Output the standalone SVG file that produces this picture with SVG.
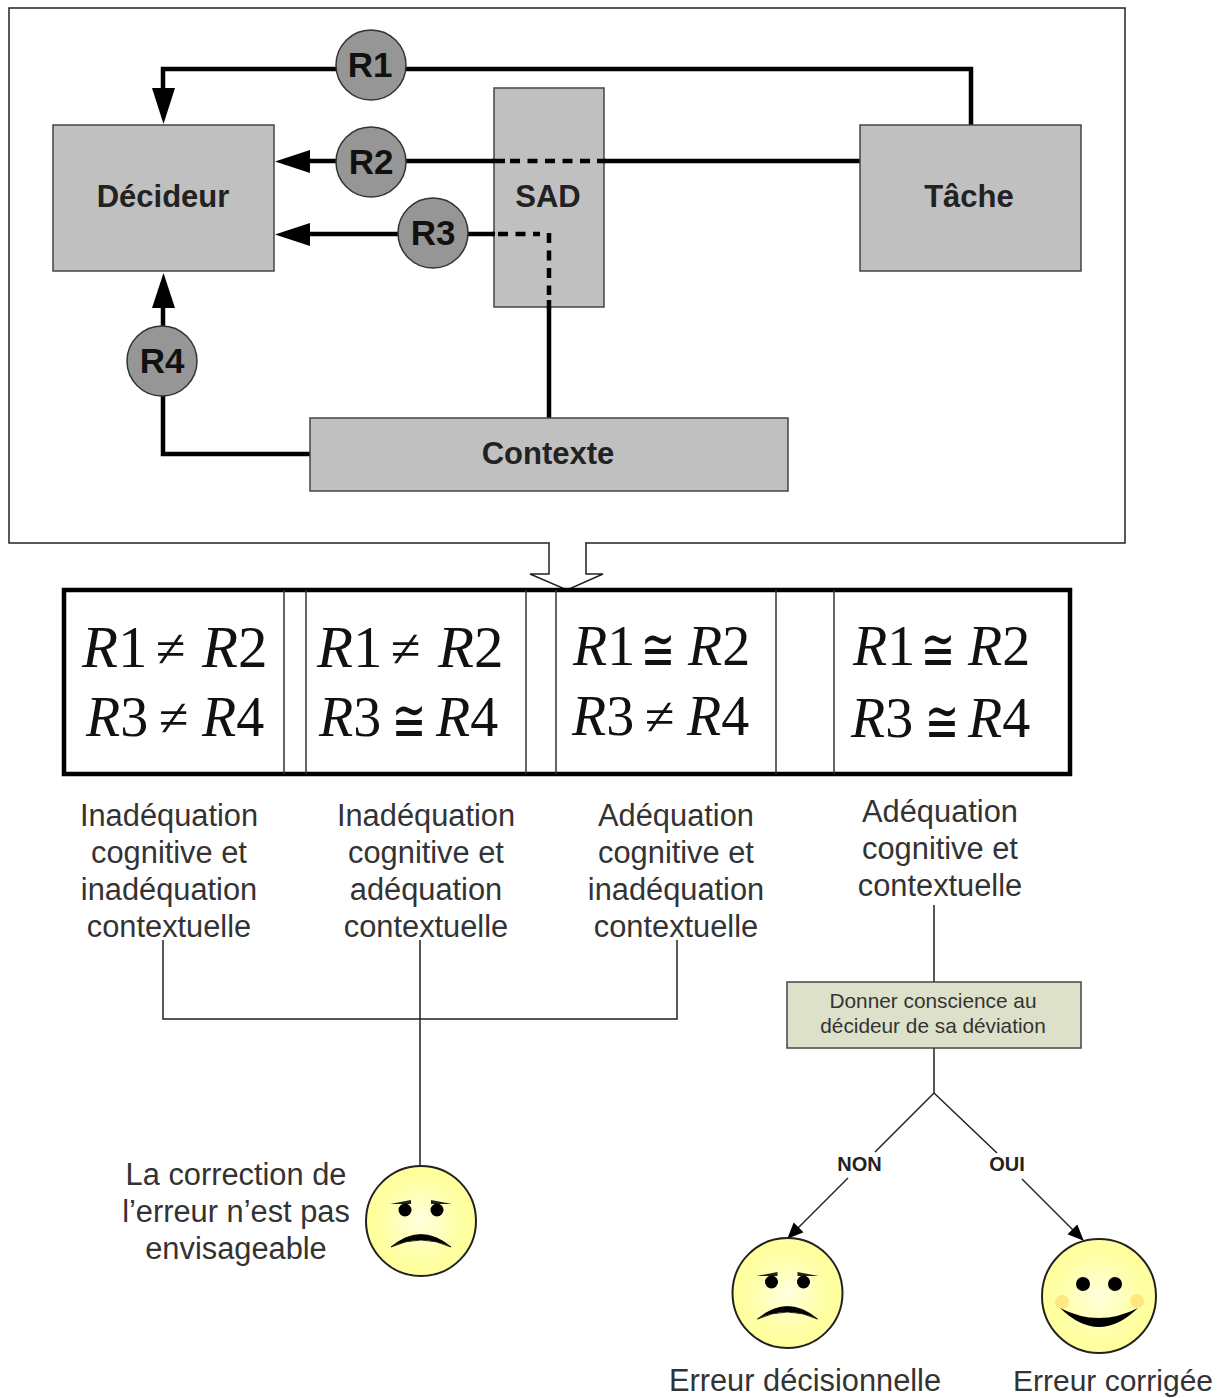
<svg xmlns="http://www.w3.org/2000/svg" width="1222" height="1398" viewBox="0 0 1222 1398">
<style>
.box{fill:#c0c0c0;stroke:#444;stroke-width:1.5}
.lbl{font-family:"Liberation Sans",Arial,sans-serif;font-weight:bold;font-size:31px;fill:#222;text-anchor:middle}
.rc{fill:#969696;stroke:#333;stroke-width:1.5}
.rl{font-family:"Liberation Sans",Arial,sans-serif;font-weight:bold;font-size:35px;fill:#111;text-anchor:middle}
.thick{fill:none;stroke:#000;stroke-width:4.5}
.dash{fill:none;stroke:#000;stroke-width:4.5;stroke-dasharray:10 7.5}
.thin{fill:none;stroke:#222;stroke-width:1.5}
.cap{font-family:"Liberation Sans",Arial,sans-serif;font-size:30.8px;fill:#333;text-anchor:middle}
.m{font-family:"Liberation Serif","Times New Roman",serif;font-size:56px;fill:#111}
.b{font-size:59px}
.i{font-style:italic}
.ne{font-family:"Liberation Serif","Times New Roman",serif;font-size:54px;fill:#111}
.ap{font-family:"DejaVu Sans",sans-serif;font-size:41px;fill:#111}
.yn{font-family:"Liberation Sans",Arial,sans-serif;font-weight:bold;font-size:20px;fill:#222;text-anchor:middle}
.sm{font-family:"Liberation Sans",Arial,sans-serif;font-size:20.8px;fill:#333;text-anchor:middle}
.face{fill:url(#fg);stroke:#222;stroke-width:2}
</style>
<defs>
<radialGradient id="fg"><stop offset="0" stop-color="#ffffe0"/><stop offset="0.7" stop-color="#ffffa6"/><stop offset="1" stop-color="#ffff9c"/></radialGradient>
<marker id="ah" markerUnits="userSpaceOnUse" markerWidth="16" markerHeight="16" refX="15" refY="8" orient="auto"><path d="M0 1L16 8L0 15Z" fill="#000"/></marker>
<g id="sad"><path d="M-31 -17L-10 -21V-17Q-20 -17 -31 -17ZM31 -17L10 -21V-17Q20 -17 31 -17Z" fill="#222"/><circle cx="-16" cy="-11" r="6.5" fill="#000"/><circle cx="16" cy="-11" r="6.5" fill="#000"/><path d="M-30 26Q0 1 30 26Q0 12 -30 26Z" fill="#000" stroke="#000" stroke-width="0.8"/></g>
</defs>

<rect id="frame" x="9" y="8" width="1116" height="535" fill="#fff" stroke="#222" stroke-width="1.5"/>

<g id="connectors">
<path class="thick" d="M971 126V69H163V100"/>
<path d="M152 88H175L163.500 124Z" fill="#000"/>
<path class="thick" d="M862 161H597M494 161H305"/>
<path d="M275 161.500L310 150V173Z" fill="#000"/>
<path class="thick" d="M497 234H305"/>
<path d="M275 234.500L310 223V246Z" fill="#000"/>
<path class="thick" d="M549 418V300"/>
<path class="thick" d="M311 454H163V300"/>
<path d="M163.500 273L175 308H152Z" fill="#000"/>
<path class="thin" d="M163 940V1019H677V940M420 940V1166M934 905V982M934 1048V1093L875 1152M934 1093L997 1153"/>
<path class="thin" d="M848 1178L788 1238" marker-end="url(#ah)"/>
<path class="thin" d="M1022 1179L1083 1240" marker-end="url(#ah)"/>
<path d="M549 543V574H530L567 590L603 574H586V543" fill="#fff" stroke="#222" stroke-width="1.500"/>
<rect x="550" y="541" width="35" height="6" fill="#fff"/>
</g>

<g id="n-decideur"><rect class="box" x="53" y="125" width="221" height="146"/><text class="lbl" x="163" y="207">Décideur</text></g>
<g id="n-sad"><rect class="box" x="494" y="88" width="110" height="219"/><text class="lbl" x="548" y="207">SAD</text></g>
<g id="overlay">
<path class="thick" d="M492 161H505M597 161H606M492 234H495M549 300V309"/>
<path class="dash" d="M510 161H597"/>
<path class="dash" d="M498 234H540"/>
<path class="dash" d="M549 233V295"/>
</g>
<g id="n-tache"><rect class="box" x="860" y="125" width="221" height="146"/><text class="lbl" x="969" y="207">Tâche</text></g>
<g id="n-contexte"><rect class="box" x="310" y="418" width="478" height="73"/><text class="lbl" x="548" y="464">Contexte</text></g>

<g id="r1"><circle class="rc" cx="371" cy="65" r="35"/><text class="rl" x="370" y="77">R1</text></g>
<g id="r2"><circle class="rc" cx="371" cy="162" r="35"/><text class="rl" x="371" y="174">R2</text></g>
<g id="r3"><circle class="rc" cx="433" cy="233" r="35"/><text class="rl" x="433" y="245">R3</text></g>
<g id="r4"><circle class="rc" cx="162" cy="361" r="35"/><text class="rl" x="162" y="373">R4</text></g>

<g id="table">
<rect x="64" y="590" width="1006" height="184" fill="none" stroke="#000" stroke-width="4.5"/>
<path d="M284 590V774M306 590V774M526 590V774M556 590V774M776 590V774M834 590V774" stroke="#333" stroke-width="1.500" fill="none"/>

<text class="m b" x="82" y="667"><tspan class="i">R</tspan>1<tspan x="202" class="i">R</tspan>2</text><text class="ne" x="156" y="667">≠</text>
<text class="m" x="86" y="736"><tspan class="i">R</tspan>3<tspan x="202" class="i">R</tspan>4</text><text class="ne" x="159" y="736">≠</text>

<text class="m b" x="317" y="667"><tspan class="i">R</tspan>1<tspan x="438" class="i">R</tspan>2</text><text class="ne" x="391" y="667">≠</text>
<text class="m" x="319" y="736"><tspan class="i">R</tspan>3<tspan x="436" class="i">R</tspan>4</text><text class="ap" transform="translate(392 741) scale(1 1.45)">≅</text>

<text class="m" x="573" y="665"><tspan class="i">R</tspan>1<tspan x="688" class="i">R</tspan>2</text><text class="ap" transform="translate(641 670) scale(1 1.45)">≅</text>
<text class="m" x="572" y="735"><tspan class="i">R</tspan>3<tspan x="687" class="i">R</tspan>4</text><text class="ne" x="645" y="735">≠</text>

<text class="m" x="853" y="665"><tspan class="i">R</tspan>1<tspan x="968" class="i">R</tspan>2</text><text class="ap" transform="translate(921 670) scale(1 1.45)">≅</text>
<text class="m" x="851" y="737"><tspan class="i">R</tspan>3<tspan x="968" class="i">R</tspan>4</text><text class="ap" transform="translate(925 742) scale(1 1.45)">≅</text>
</g>

<g id="cap1"><text class="cap" x="169" y="826">Inadéquation</text><text class="cap" x="169" y="863">cognitive et</text><text class="cap" x="169" y="900">inadéquation</text><text class="cap" x="169" y="937">contextuelle</text></g>
<g id="cap2"><text class="cap" x="426" y="826">Inadéquation</text><text class="cap" x="426" y="863">cognitive et</text><text class="cap" x="426" y="900">adéquation</text><text class="cap" x="426" y="937">contextuelle</text></g>
<g id="cap3"><text class="cap" x="676" y="826">Adéquation</text><text class="cap" x="676" y="863">cognitive et</text><text class="cap" x="676" y="900">inadéquation</text><text class="cap" x="676" y="937">contextuelle</text></g>
<g id="cap4"><text class="cap" x="940" y="822">Adéquation</text><text class="cap" x="940" y="859">cognitive et</text><text class="cap" x="940" y="896">contextuelle</text></g>

<g id="n-conscience"><rect x="787" y="982" width="294" height="66" fill="#dde1c9" stroke="#444" stroke-width="1.500"/>
<text class="sm" x="933" y="1008">Donner conscience au</text>
<text class="sm" x="933" y="1033">décideur de sa déviation</text></g>

<text class="yn" x="859.500" y="1171">NON</text>
<text class="yn" x="1007" y="1171">OUI</text>

<g id="face1"><circle class="face" cx="421" cy="1221" r="55"/><use href="#sad" x="421" y="1221"/></g>
<g id="cap5"><text class="cap" x="236" y="1185">La correction de</text><text class="cap" x="236" y="1222">l’erreur n’est pas</text><text class="cap" x="236" y="1259">envisageable</text></g>
<g id="face2"><circle class="face" cx="787.500" cy="1293" r="55"/><use href="#sad" x="787.500" y="1293"/></g>
<g id="face3"><circle class="face" cx="1099" cy="1296" r="57"/>
<circle cx="1062" cy="1302" r="7" fill="#ffe680"/><circle cx="1137" cy="1301" r="7" fill="#ffe680"/>
<circle cx="1083" cy="1284" r="7" fill="#000"/><circle cx="1115" cy="1284" r="7" fill="#000"/>
<path d="M1060 1308Q1099 1346 1138 1308Q1099 1328 1060 1308Z" fill="#000"/></g>
<text class="cap" x="805" y="1390.500">Erreur décisionnelle</text>
<text class="cap" x="1113" y="1390.500" style="font-size:30px">Erreur corrigée</text>
</svg>
